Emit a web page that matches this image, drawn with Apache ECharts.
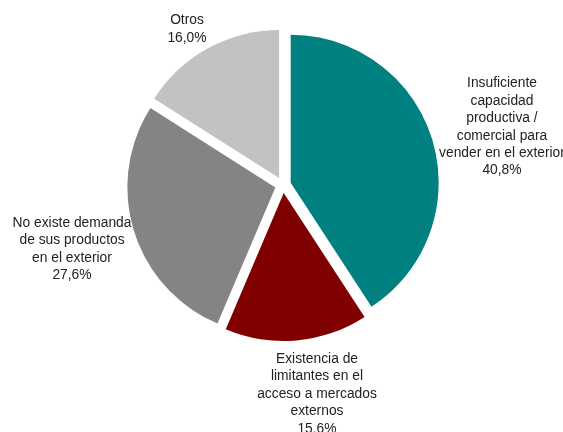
<!DOCTYPE html>
<html>
<head>
<meta charset="utf-8">
<script src="https://cdn.jsdelivr.net/npm/echarts@6/dist/echarts.min.js"></script>
<style>
  html, body { margin: 0; padding: 0; background: #fff; }
  #chart { width: 563px; height: 432px; }
</style>
</head>
<body>
<div id="chart"></div>
<script>
// categories (label text as it is broken in the picture)
var categories = [
  "Insuficiente\ncapacidad\nproductiva /\ncomercial para\nvender en el exterior",
  "Existencia de\nlimitantes en el\nacceso a mercados\nexternos",
  "No existe demanda\nde sus productos\nen el exterior",
  "Otros"
];
// shares in %
var values = [40.8, 15.6, 27.6, 16.0];
var colors = ["#008080", "#800000", "#848484", "#c2c2c2"];

// where each label block sits (centre of the text)
var labelPos = [[502, 127], [317, 394], [72, 249], [187, 29]];

var chart = echarts.init(document.getElementById("chart"));

function fmt(v) {
  return v.toFixed(1).replace(".", ",") + "%";
}

var seriesData = categories.map(function (name, i) {
  return {
    name: name,
    value: values[i],
    selected: true,
    itemStyle: { color: colors[i] }
  };
});

// slice labels, one text block per category
var labels = categories.map(function (name, i) {
  return {
    type: "text",
    x: labelPos[i][0],
    y: labelPos[i][1],
    silent: true,
    style: {
      text: name + "\n" + fmt(values[i]),
      align: "center",
      verticalAlign: "middle",
      fill: "#222222",
      fontFamily: "Liberation Sans, Arial, sans-serif",
      fontSize: 13.8,
      lineHeight: 17.4
    }
  };
});

var option = {
  animation: false,
  backgroundColor: "#ffffff",
  graphic: labels,
  series: [
    {
      type: "pie",
      center: [283, 185],
      radius: 148,
      startAngle: 90,
      clockwise: true,
      selectedMode: "multiple",
      selectedOffset: 8,
      emphasis: { scale: false },
      data: seriesData,
      label: { show: false },
      labelLine: { show: false }
    }
  ]
};

chart.setOption(option);
window.addEventListener("resize", function () {
  chart.resize();
});
</script>
</body>
</html>
